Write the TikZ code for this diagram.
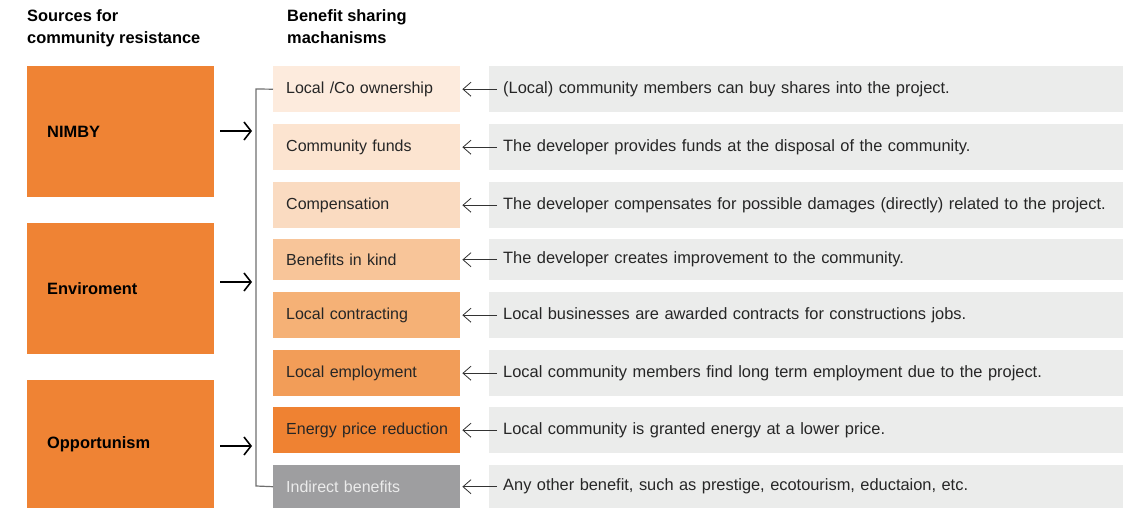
\documentclass[tikz,border=0pt]{standalone}
\usepackage{fontspec}
\setmainfont{Liberation Sans}
\usetikzlibrary{arrows.meta}

\definecolor{srcorange}{RGB}{239,131,52}
\definecolor{ben1}{RGB}{253,235,221}
\definecolor{ben2}{RGB}{252,228,208}
\definecolor{ben3}{RGB}{250,219,193}
\definecolor{ben4}{RGB}{248,197,153}
\definecolor{ben5}{RGB}{245,177,118}
\definecolor{ben6}{RGB}{242,157,88}
\definecolor{ben7}{RGB}{239,130,50}
\definecolor{ben8}{RGB}{158,158,160}
\definecolor{descgray}{RGB}{235,236,235}
\definecolor{linegray}{RGB}{110,110,110}

\begin{document}
\begin{tikzpicture}[x=1pt,y=-1pt,
    every node/.style={font=\fontsize{16.4}{19}\selectfont},
    header/.style={anchor=north west,inner sep=0pt,align=left,
      font=\fontsize{16.4}{22}\selectfont\bfseries},
    source/.style={anchor=north west,fill=srcorange,inner xsep=20pt,inner ysep=0pt,
      text width=147pt,minimum height=131pt,align=left,font=\fontsize{16.4}{19}\selectfont\bfseries},
    benefit/.style={anchor=north west,inner xsep=13pt,inner ysep=0pt,
      text width=161pt,minimum height=46pt,align=left,text=black!85,
      font=\fontsize{16}{19}\selectfont},
    desc/.style={anchor=north west,fill=descgray,inner xsep=14pt,inner ysep=0pt,
      text width=606pt,minimum height=46pt,align=left,text=black!85},
    push/.style={line width=1.6pt,-{Straight Barb[length=7pt,width=18pt,line width=1.6pt]}},
    pull/.style={line width=0.8pt,draw=black!80,-{Straight Barb[length=8pt,width=14pt,line width=0.8pt]}}]
  \useasboundingbox (0,0) rectangle (1135,508);
  % headers
  \node[header] (h1) at (27,9) {Sources for\\community resistance};
  \node[header] (h2) at (287,9) {Benefit sharing\\machanisms};
  % sources of resistance
  \node[source] (nimby) at (27,66) {NIMBY};
  \node[source] (env) at (27,223) {Enviroment};
  \node[source,minimum height=128pt] (opp) at (27,380) {Opportunism};
  % benefit sharing mechanisms
  \node[benefit,fill=ben1] (b1) at (273,66) {Local /Co ownership};
  \node[benefit,fill=ben2] (b2) at (273,124) {Community funds};
  \node[benefit,fill=ben3] (b3) at (273,182) {Compensation};
  \node[benefit,fill=ben4,minimum height=41pt] (b4) at (273,239) {Benefits in kind};
  \node[benefit,fill=ben5] (b5) at (273,292) {Local contracting};
  \node[benefit,fill=ben6] (b6) at (273,350) {Local employment};
  \node[benefit,fill=ben7] (b7) at (273,407) {\mbox{Energy price reduction}};
  \node[benefit,fill=ben8,minimum height=43pt,text=black!8] (b8) at (273,465) {Indirect benefits};
  % descriptions
  \node[desc] (d1) at (489,66) {(Local) community members can buy shares into the project.};
  \node[desc] (d2) at (489,124) {The developer provides funds at the disposal of the community.};
  \node[desc] (d3) at (489,182) {The developer compensates for possible damages (directly) related to the project.};
  \node[desc,minimum height=41pt] (d4) at (489,239) {The developer creates improvement to the community.};
  \node[desc] (d5) at (489,292) {Local businesses are awarded contracts for constructions jobs.};
  \node[desc] (d6) at (489,350) {Local community members find long term employment due to the project.};
  \node[desc] (d7) at (489,407) {Local community is granted energy at a lower price.};
  \node[desc,minimum height=43pt] (d8) at (489,465) {Any other benefit, such as prestige, ecotourism, eductaion, etc.};
  % bracket
  \coordinate (top) at (256,89);
  \coordinate (bot) at (256,486);
  \draw[linegray,line width=1.2pt] (b1.west) -- (top) -- (bot) -- (b8.west);
  % arrows into the bracket
  \coordinate (a1) at (252,131);
  \coordinate (a2) at (252,282);
  \coordinate (a3) at (252,446);
  \draw[push] (nimby.east |- a1) ++(6,0) -- (a1);
  \draw[push] (env.east |- a2) ++(6,0) -- (a2);
  \draw[push] (opp.east |- a3) ++(6,0) -- (a3);
  % arrows from descriptions
  \foreach \i in {1,...,8}{
    \draw[pull] ([xshift=8pt]d\i.west) -- ([xshift=2pt]b\i.east);
  }
\end{tikzpicture}
\end{document}
